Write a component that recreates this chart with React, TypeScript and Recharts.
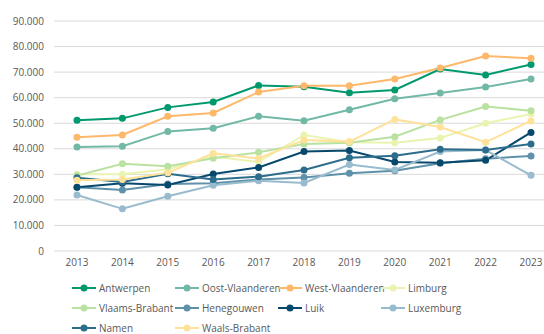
import React from 'react';
import { LineChart, Line, XAxis, YAxis, CartesianGrid } from 'recharts';

const years = ['2013', '2014', '2015', '2016', '2017', '2018', '2019', '2020', '2021', '2022', '2023'];

const antwerpen = [51200, 51900, 56200, 58300, 64800, 64300, 61900, 63000, 71200, 68900, 73000];
const oostVlaanderen = [40700, 41000, 46800, 48000, 52700, 51000, 55300, 59600, 61800, 64200, 67300];
const westVlaanderen = [44500, 45400, 52700, 54000, 62200, 64700, 64700, 67300, 71600, 76300, 75400];
const limburg = [30000, 30000, 32000, 37000, 34800, 45400, 42600, 42400, 44200, 50000, 53600];
const vlaamsBrabant = [29500, 34100, 33200, 36300, 38600, 41900, 42400, 44700, 51300, 56500, 54900];
const henegouwen = [24900, 23900, 26200, 26500, 28000, 28800, 30400, 31400, 34300, 36100, 37200];
const luik = [24900, 26500, 25800, 30100, 32700, 38900, 39300, 34800, 34500, 35500, 46400];
const luxemburg = [21900, 16500, 21400, 25700, 27500, 26600, 33800, 31700, 38900, 39500, 29600];
const namen = [28700, 27000, 30200, 28000, 29100, 31700, 36500, 37300, 39800, 39500, 41900];
const waalsBrabant = [27700, 28000, 30600, 38200, 36200, 43400, 42800, 51500, 48500, 42600, 50900];

const yTicks = [0, 10000, 20000, 30000, 40000, 50000, 60000, 70000, 80000, 90000];

const series = [
  { key: 'Antwerpen', values: antwerpen, color: '#00996e' },
  { key: 'Oost-Vlaanderen', values: oostVlaanderen, color: '#72b8a6' },
  { key: 'West-Vlaanderen', values: westVlaanderen, color: '#fdb86a' },
  { key: 'Limburg', values: limburg, color: '#eaf4b0' },
  { key: 'Vlaams-Brabant', values: vlaamsBrabant, color: '#b9e1a0' },
  { key: 'Henegouwen', values: henegouwen, color: '#5f91aa' },
  { key: 'Luik', values: luik, color: '#07496d' },
  { key: 'Luxemburg', values: luxemburg, color: '#98bccd' },
  { key: 'Namen', values: namen, color: '#2c6d8c' },
  { key: 'Waals-Brabant', values: waalsBrabant, color: '#ffe29a' },
];

const data = years.map((year, i) => {
  const row: { [key: string]: string | number } = { year };
  series.forEach(s => {
    row[s.key] = s.values[i];
  });
  return row;
});

const FONT = '"Open Sans", "Noto Sans", sans-serif';
const TEXT = '#595959';

// Dutch thousands separator: 90000 -> 90.000
const formatNumber = (v: number) => (v === 0 ? '0' : v.toLocaleString('de-DE'));

// Four-column legend under the plot
function LegendGrid() {
  return (
    <div style={{ position: 'absolute', left: 0, top: 280, width: 544, height: 60 }}>
      {series.map((s, i) => {
        const col = i % 4;
        const row = Math.floor(i / 4);
        return (
          <div
            key={s.key}
            style={{
              position: 'absolute',
              left: 72 + col * 103,
              top: row * 20,
              height: 16,
              display: 'flex',
              alignItems: 'center',
              fontFamily: FONT,
              fontSize: 10,
              color: TEXT,
              whiteSpace: 'nowrap',
            }}
          >
            <svg width={25} height={10} style={{ marginRight: 2 }}>
              <line x1={0} y1={5} x2={24} y2={5} stroke={s.color} strokeWidth={2} />
              <circle cx={12} cy={5} r={3.5} fill={s.color} />
            </svg>
            <span>{s.key}</span>
          </div>
        );
      })}
    </div>
  );
}

export default function App() {
  return (
    <div style={{ position: 'absolute', left: 0, top: 0, width: 544, height: 334, overflow: 'hidden', background: '#fff' }}>
      <LineChart width={544} height={284} data={data} margin={{ top: 21, right: 0, bottom: 0, left: 0 }}>
        <CartesianGrid vertical={false} stroke="#d9d9d9" strokeWidth={1} />
        <XAxis
          dataKey="year"
          axisLine={false}
          tickLine={false}
          padding={{ left: 23, right: 13 }}
          tick={{ fill: TEXT, fontSize: 10, fontFamily: FONT }}
          tickMargin={2}
          height={33}
        />
        <YAxis
          domain={[0, 90000]}
          ticks={yTicks}
          axisLine={false}
          tickLine={false}
          width={54}
          tickMargin={4}
          tickFormatter={formatNumber}
          tick={{ fill: TEXT, fontSize: 10, fontFamily: FONT }}
        />
        {series.map(s => (
          <Line
            key={s.key}
            dataKey={s.key}
            stroke={s.color}
            strokeWidth={2}
            dot={{ r: 3.5, fill: s.color, stroke: s.color, strokeWidth: 0 }}
            isAnimationActive={false}
          />
        ))}
      </LineChart>
      <LegendGrid />
    </div>
  );
}
